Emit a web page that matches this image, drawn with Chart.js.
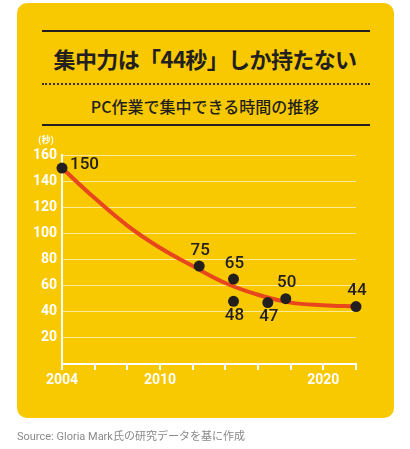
<!DOCTYPE html>
<html lang="ja">
<head>
<meta charset="utf-8">
<script src="https://cdn.jsdelivr.net/npm/chart.js@4"></script>
<style>
  html, body { margin: 0; padding: 0; background: #fff; }
  body { width: 410px; height: 449px; position: relative; overflow: hidden; font-family: 'Noto Sans CJK JP', 'Noto Sans', sans-serif; }
  .card { position: absolute; left: 17px; top: 3px; width: 377px; height: 415px; background: #f8c900; border-radius: 10px; }
  .rule { position: absolute; left: 42px; width: 328px; height: 0; border-top: 2px solid #231f1f; }
  .dots { position: absolute; left: 42px; width: 328px; height: 0; border-top: 2px dotted #3a3220; }
  .title { position: absolute; left: 0; width: 410px; text-align: center; color: #231f1f; white-space: nowrap; }
  #chart { position: absolute; left: 0; top: 0; }
  .source { position: absolute; left: 17px; top: 427px; font-size: 11px; color: #8a8a8a; font-family: 'Roboto', 'Noto Sans CJK JP', sans-serif; white-space: nowrap; }
</style>
</head>
<body>
<div class="card"></div>
<div class="rule" style="top:30px"></div>
<div class="title" style="top:43px;font-size:22px;font-weight:700;line-height:30px;letter-spacing:-0.6px;">集中力は「44秒」しか持たない</div>
<div class="dots" style="top:83px"></div>
<div class="title" style="top:95px;font-size:16px;font-weight:500;line-height:22px;">PC作業で集中できる時間の推移</div>
<div class="rule" style="top:124px"></div>
<canvas id="chart" width="410" height="449"></canvas>
<div class="source">Source: Gloria Mark氏の研究データを基に作成</div>
<script>
// ===== Data =====
const studyYears = [2004, 2012.4, 2014.5, 2014.5, 2016.6, 2017.7, 2022];
const studySeconds = [150, 75, 65, 48, 47, 50, 44];
const trendYears = [2004, 2006, 2008, 2010, 2012, 2014, 2016, 2018, 2020, 2022];
const trendSeconds = [150, 127, 106, 89, 75, 62, 53, 47, 45, 44];
const yearLabels = [2004, 2010, 2020];
const secondTicks = [20, 40, 60, 80, 100, 120, 140, 160];

// label side for each study point
const labelSide = ['right', 'above', 'above', 'below', 'below', 'above', 'above'];

const INK = '#231f1f';
const TREND_RED = '#e8461c';

const pointLabelPlugin = {
  id: 'pointLabels',
  afterDatasetsDraw(chart) {
    const { ctx } = chart;
    const meta = chart.getDatasetMeta(0);
    ctx.save();
    ctx.fillStyle = INK;
    ctx.font = '500 17px Roboto, sans-serif';
    ctx.textBaseline = 'middle';
    meta.data.forEach((pt, i) => {
      const text = String(studySeconds[i]);
      const side = labelSide[i];
      if (side === 'right') {
        ctx.textAlign = 'left';
        ctx.fillText(text, pt.x + 8, pt.y - 3);
      } else if (side === 'above') {
        ctx.textAlign = 'center';
        ctx.fillText(text, pt.x + 1, pt.y - 15.5);
      } else {
        ctx.textAlign = 'center';
        ctx.fillText(text, pt.x + 1, pt.y + 14);
      }
    });

    // unit label above the y axis
    const area = chart.chartArea;
    ctx.fillStyle = '#ffffff';
    ctx.font = '700 9px "Noto Sans CJK JP", sans-serif';
    ctx.textAlign = 'center';
    ctx.fillText('(秒)', area.left - 16, area.top - 15);
    ctx.restore();
  },
};

function buildChart() {
  const canvas = document.getElementById('chart');

  return new Chart(canvas, {
    type: 'line',
    data: {
      datasets: [
        {
          type: 'scatter',
          data: studyYears.map((year, i) => ({ x: year, y: studySeconds[i] })),
          backgroundColor: INK,
          borderColor: INK,
          pointRadius: 5.5,
          pointHoverRadius: 5.5,
          borderWidth: 0,
          clip: false,
          order: 0,
        },
        {
          type: 'line',
          data: trendYears.map((year, i) => ({ x: year, y: trendSeconds[i] })),
          borderColor: TREND_RED,
          borderWidth: 4,
          pointRadius: 0,
          tension: 0.4,
          fill: false,
          clip: false,
          order: 1,
        },
      ],
    },
    options: {
      responsive: false,
      devicePixelRatio: 1,
      animation: false,
      events: [],
      layout: {
        padding: { left: 22, right: 54, top: 155, bottom: 55 },
      },
      plugins: {
        legend: { display: false },
        tooltip: { enabled: false },
      },
      scales: {
        x: {
          type: 'linear',
          min: 2004,
          max: 2022,
          afterFit(scale) { scale.height = 30; },
          border: { display: true, color: '#ffffff', width: 2 },
          grid: {
            drawOnChartArea: false,
            drawTicks: true,
            tickLength: 6,
            color: '#ffffff',
            lineWidth: 2,
          },
          ticks: {
            stepSize: 2,
            autoSkip: false,
            maxRotation: 0,
            padding: 2,
            color: '#ffffff',
            font: { family: 'Roboto', size: 14, weight: '700' },
            callback: (value) => (yearLabels.includes(value) ? String(value) : ''),
          },
        },
        y: {
          min: 0,
          max: 160,
          afterFit(scale) { scale.width = 40; },
          border: { display: true, color: '#ffffff', width: 2 },
          grid: {
            drawTicks: false,
            color: 'rgba(255,255,255,0.6)',
            lineWidth: 1,
          },
          ticks: {
            stepSize: 20,
            padding: 5,
            color: '#ffffff',
            font: { family: 'Roboto', size: 14, weight: '700' },
            callback: (value) => (secondTicks.includes(value) ? String(value) : ''),
          },
        },
      },
    },
    plugins: [pointLabelPlugin],
  });
}

buildChart();
</script>
</body>
</html>
